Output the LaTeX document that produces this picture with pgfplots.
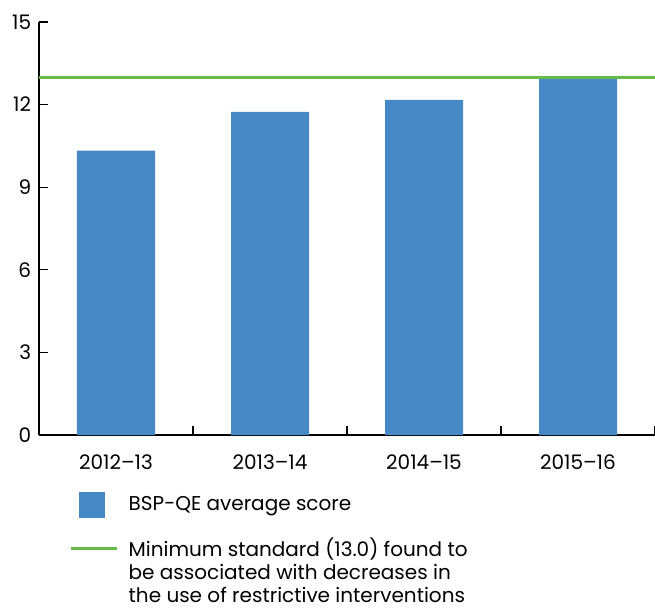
\documentclass[border=0pt]{standalone}
\usepackage{pgfplots}
\pgfplotsset{compat=1.18}
\usepackage{fontspec}
\setmainfont{Poppins}
\definecolor{barblue}{RGB}{71,136,199}
\definecolor{lgreen}{RGB}{104,187,72}
\begin{document}
\fontsize{20bp}{23.5bp}\selectfont
\begin{tikzpicture}
\begin{axis}[name=ax, scale only axis, width=616bp, height=413bp,
  xmin=-0.5, xmax=3.5, ymin=0, ymax=15,
  axis x line*=bottom, axis y line*=left,
  axis line style={line width=1.2bp, -},
  xtick={-0.5,0.5,1.5,2.5,3.5}, xticklabels={,,,,},
  extra x ticks={0,1,2,3},
  extra x tick labels={2012--13,2013--14,2014--15,2015--16},
  extra x tick style={major tick length=0pt},
  ytick={0,3,6,9,12,15},
  tick align=inside, major tick length=9bp,
  tick style={line width=1.2bp, black},
  tick label style={font=\fontsize{20bp}{23.5bp}\selectfont},
  /pgf/number format/assume math mode=true,
  xticklabel style={yshift=-13bp},
  yticklabel style={xshift=-1bp},
  clip=false,
  legend style={at={(0.0487,-0.137)}, anchor=north west, draw=none, fill=none,
    inner sep=0pt, row sep=20bp, font=\fontsize{20bp}{23bp}\selectfont,
    cells={align=left}, nodes={inner sep=0pt}},
  legend cell align=left,
]
\addplot[ybar, bar width=78bp, fill=barblue, draw=none,
  legend image code/.code={\path[draw=none,fill=none] (0bp,0bp) rectangle (58bp,0bp);
    \fill[barblue, draw=none] (8bp,-13bp) rectangle (34bp,13bp);}]
  coordinates {(0,10.33) (1,11.74) (2,12.17) (3,12.94)};
\addlegendentry{BSP-QE average score}
\addplot[lgreen, line width=3bp, no marks,
  legend image code/.code={\path[draw=none,fill=none] (0bp,0bp) rectangle (58bp,0bp);
    \draw[lgreen, line width=3bp] (0bp,23bp) -- (46bp,23bp);
    \path[draw=none,fill=none] (0bp,-23bp) -- (0bp, 23bp);}]
  coordinates {(-0.5,13) (3.5,13)};
\addlegendentry{Minimum standard (13.0) found to\\be associated with decreases in\\the use of restrictive interventions}
\end{axis}
\pgfresetboundingbox
\path[use as bounding box] ([shift={(-39bp,-174bp)}]ax.south west) rectangle ([shift={(0bp,22bp)}]ax.north east);
\end{tikzpicture}
\end{document}
